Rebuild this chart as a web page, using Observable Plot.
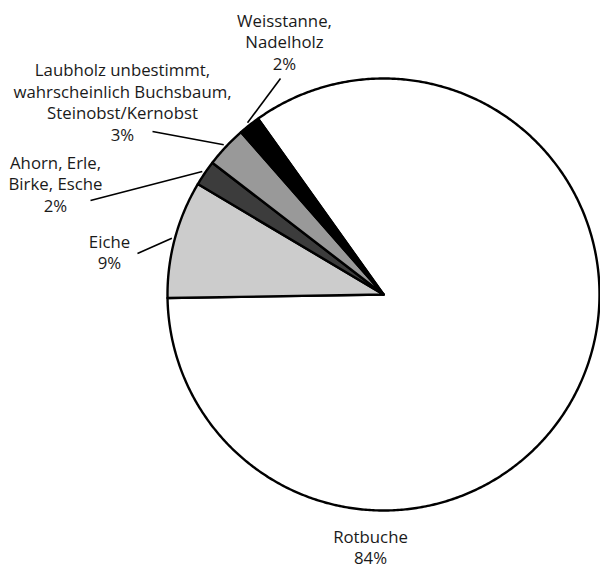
<!DOCTYPE html>
<html>
<head>
<meta charset="utf-8">
<script src="https://cdn.jsdelivr.net/npm/d3@7"></script>
<script src="https://cdn.jsdelivr.net/npm/@observablehq/plot@0.6"></script>
<style>
  html, body { margin: 0; padding: 0; background: #fff; }
</style>
</head>
<body>
<div id="chart"></div>
<script>
// ---- data ----
const categories = ["Rotbuche", "Eiche", "Ahorn, Erle,\nBirke, Esche", "Laubholz unbestimmt,\nwahrscheinlich Buchsbaum,\nSteinobst/Kernobst", "Weisstanne,\nNadelholz"];
const values = [84.6, 8.8, 1.9, 3.1, 1.6];
const percentLabels = ["84%", "9%", "2%", "3%", "2%"];
const fills = ["#ffffff", "#cccccc", "#3c3c3c", "#999999", "#000000"];

// ---- layout (not data) ----
const W = 600, H = 569;
const cx = 383, cy = 294, R = 216;
const startAngle = -35.5 * Math.PI / 180;
// label block centres and leader-line outer ends (null = no leader)
const labelPos = [
  {x: 370, y: 546, lx: null, ly: null},
  {x: 109, y: 251, lx: 137, ly: 253},
  {x: 55, y: 183, lx: 90, ly: 200},
  {x: 122, y: 101, lx: 152, ly: 131},
  {x: 284, y: 41, lx: 280, ly: 78}
];

const pie = d3.pie().sort(null).value(d => d.value)
  .startAngle(startAngle).endAngle(startAngle + 2 * Math.PI);
const rows = categories.map((c, i) => ({name: c, value: values[i], pct: percentLabels[i], fill: fills[i], i}));
const arcs = pie(rows);

const pt = (a, r) => ({x: cx + r * Math.sin(a), y: cy - r * Math.cos(a)});

const polys = [];
arcs.forEach(a => {
  polys.push({...pt(0, 0), name: a.data.name, fill: a.data.fill});
  const n = Math.max(4, Math.ceil((a.endAngle - a.startAngle) / (Math.PI / 360)));
  for (let k = 0; k <= n; k++) {
    const ang = a.startAngle + (a.endAngle - a.startAngle) * k / n;
    polys.push({...pt(ang, R), name: a.data.name, fill: a.data.fill});
  }
  polys.push({...pt(0, 0), name: a.data.name, fill: a.data.fill});
});

const labels = arcs.map(a => ({
  text: a.data.name + "\n" + a.data.pct,
  x: labelPos[a.data.i].x, y: labelPos[a.data.i].y
}));

const leaders = arcs.filter(a => labelPos[a.data.i].lx != null).map(a => {
  const mid = (a.startAngle + a.endAngle) / 2;
  const p = pt(mid, R + 3);
  return {x1: labelPos[a.data.i].lx, y1: labelPos[a.data.i].ly, x2: p.x, y2: p.y};
});

const chart = Plot.plot({
  width: W, height: H,
  margin: 0,
  x: {domain: [0, W], range: [0, W], axis: null},
  y: {domain: [0, H], range: [0, H], axis: null},
  color: {type: "identity"},
  style: {fontFamily: "'Open Sans', Lato, sans-serif", background: "#fff"},
  marks: [
    Plot.line(polys, {x: "x", y: "y", z: "name", fill: "fill", stroke: "#000", strokeWidth: 2.4, strokeLinejoin: "round", curve: "linear"}),
    Plot.link(leaders, {x1: "x1", y1: "y1", x2: "x2", y2: "y2", stroke: "#000", strokeWidth: 1.6}),
    Plot.text(labels, {x: "x", y: "y", text: "text", fontSize: 16.8, lineHeight: 1.28, textAnchor: "middle", lineAnchor: "middle", fill: "#1a1a1a"})
  ]
});
document.getElementById("chart").appendChild(chart);
</script>
</body>
</html>
